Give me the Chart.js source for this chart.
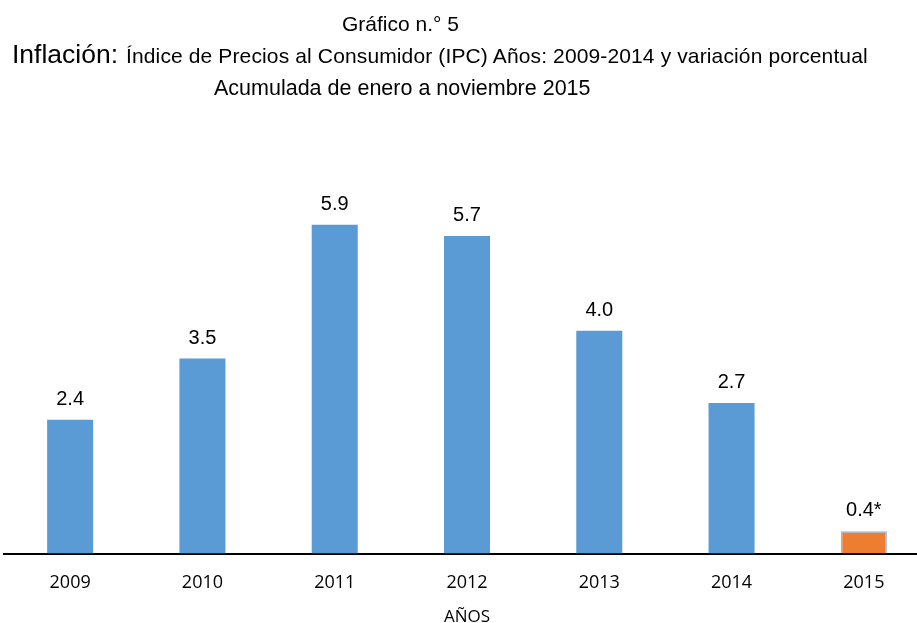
<!DOCTYPE html>
<html lang="es">
<head>
  <meta charset="UTF-8">
  <title>Gráfico n.° 5</title>
  <script src="https://cdn.jsdelivr.net/npm/chart.js"></script>
  <style>
    body { margin: 0; overflow: hidden; background: #fff; }
    #wrap { position: relative; width: 917px; height: 623px; overflow: hidden; }
    canvas { position: absolute; left: 0; top: 0; }
    .t { position: absolute; font-family: "Liberation Sans", Arial, sans-serif; line-height: 1; white-space: nowrap; color: #000; }
  </style>
</head>
<body>
  <div id="wrap">
    <canvas id="ipcChart" width="930" height="623"></canvas>
    <div class="t" style="left:200.5px; width:400px; text-align:center; top:13px; font-size:21px;">Gráfico n.° 5</div>
    <div class="t" style="left:12px; top:41px; font-size:26.5px;">Inflación:</div>
    <div class="t" style="left:126px; top:45px; font-size:21px; letter-spacing:0.13px;">Índice de Precios al Consumidor (IPC) Años: 2009-2014 y variación porcentual</div>
    <div class="t" style="left:214px; top:78px; font-size:21.5px;">Acumulada de enero a noviembre 2015</div>
  </div>

  <script>
    const years = ['2009', '2010', '2011', '2012', '2013', '2014', '2015'];
    const inflation = [2.4, 3.5, 5.9, 5.7, 4.0, 2.7, 0.4];
    const notes = ['', '', '', '', '', '', '*'];
    const barColors = ['#5B9BD5', '#5B9BD5', '#5B9BD5', '#5B9BD5', '#5B9BD5', '#5B9BD5', '#ED7D31'];

    // etiquetas de valor encima de cada barra
    const valueLabels = {
      id: 'valueLabels',
      afterDatasetsDraw(chart) {
        const ctx = chart.ctx;
        const meta = chart.getDatasetMeta(0);
        ctx.save();
        ctx.font = '20px "Liberation Sans", Arial, sans-serif';
        ctx.fillStyle = '#000';
        ctx.textAlign = 'center';
        ctx.textBaseline = 'alphabetic';
        meta.data.forEach((bar, i) => {
          ctx.fillText(inflation[i].toFixed(1) + notes[i], bar.x, bar.y - 15);
        });
        ctx.restore();
      }
    };

    const ctx = document.getElementById('ipcChart').getContext('2d');
    new Chart(ctx, {
      type: 'bar',
      data: {
        labels: years,
        datasets: [{
          data: inflation,
          backgroundColor: barColors,
          borderColor: barColors.map(c => c === '#ED7D31' ? '#8DB8E2' : c),
          borderWidth: barColors.map(c => c === '#ED7D31' ? 1.5 : 0),
          barPercentage: 0.348,
          categoryPercentage: 1
        }]
      },
      options: {
        responsive: false,
        animation: false,
        layout: { padding: { top: 163.6, left: 4, right: 0, bottom: 0 } },
        plugins: {
          legend: { display: false },
          tooltip: { enabled: false }
        },
        scales: {
          y: {
            display: false,
            min: 0,
            max: 7
          },
          x: {
            grid: { display: false, drawTicks: false },
            border: { display: true, color: '#000', width: 2 },
            ticks: {
              color: '#000',
              padding: 19,
              font: { family: '"Open Sans", sans-serif', size: 18 }
            },
            title: {
              display: true,
              text: 'AÑOS',
              color: '#000',
              padding: { top: 0, bottom: -4 },
              font: { family: '"Open Sans", sans-serif', size: 17 }
            },
            afterFit(scale) { scale.height = 69.5; }
          }
        }
      },
      plugins: [valueLabels]
    });
  </script>
</body>
</html>
